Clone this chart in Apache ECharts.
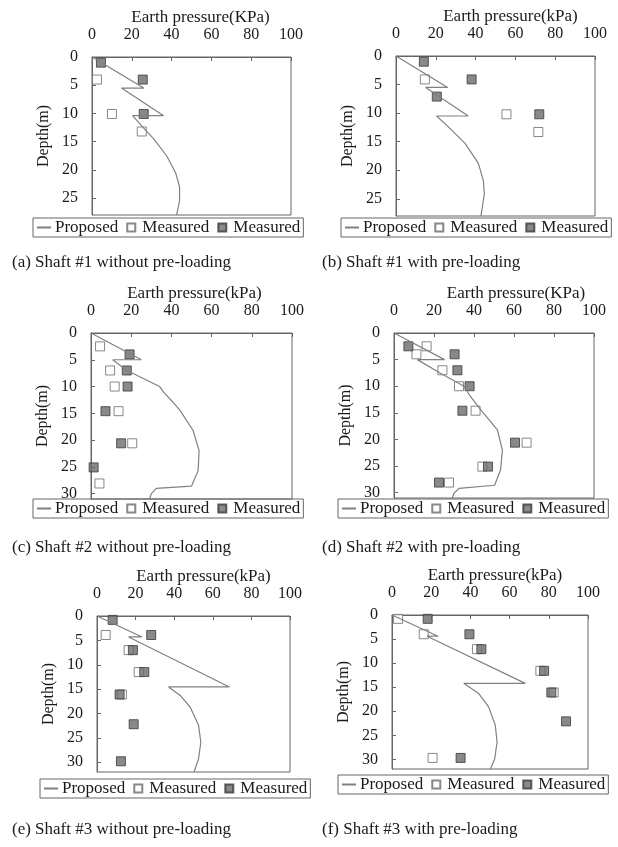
<!DOCTYPE html>
<html lang="en">
    <head>
        <meta charset="UTF-8" />
        <title>Earth pressure vs depth - six shafts</title>
        <script src="https://cdn.jsdelivr.net/npm/echarts@6/dist/echarts.min.js"></script>
        <style>
            html, body { margin: 0; padding: 0; background: #fff; }
        </style>
    </head>
    <body>
        <div id="main" style="width: 618px; height: 847px"></div>

        <script>
            // ---- data: [pressure kPa, depth m] ----
            const captions = [
                "(a) Shaft #1 without pre-loading",
                "(b) Shaft #1 with pre-loading",
                "(c) Shaft #2 without pre-loading",
                "(d) Shaft #2 with pre-loading",
                "(e) Shaft #3 without pre-loading",
                "(f) Shaft #3 with pre-loading"
            ];
            const axisTitles = [
                "Earth pressure(KPa)", "Earth pressure(kPa)",
                "Earth pressure(kPa)", "Earth pressure(KPa)",
                "Earth pressure(kPa)", "Earth pressure(kPa)"
            ];
            const depthMax = [28, 28, 31, 31, 32, 32];

            const proposedA = [[0,0],[26,5.5],[14.8,5.5],[36,10.4],[20.4,10.4],[26,12.6],[31,14.5],[37.5,17.5],[42,20.5],[44,23],[44,25.5],[42.5,28]];
            const openA = [[2.5,4],[10,10.1],[25,13.2]];
            const filledA = [[4.5,1],[25.5,4],[26,10.1]];

            const proposedB = [[0,0],[26,5.5],[14.9,5.5],[36.3,10.5],[20.4,10.5],[26.3,12.4],[34.7,15.3],[41.4,18.8],[43.9,21.8],[44.4,24.1],[42.7,28]];
            const openB = [[14.5,4.1],[55.5,10.2],[71.5,13.3]];
            const filledB = [[14,1],[38,4.1],[20.5,7.1],[72,10.2]];

            const proposedC = [[0,0],[25,5],[10.8,5],[17.5,6.9],[26,8.5],[34.2,10],[36,11],[40,12.6],[44.2,14.4],[50.8,18.2],[53.8,22],[53.3,25.7],[50,28.6],[32.5,29],[30,30],[29.2,31]];
            const openC = [[4.5,2.5],[9.5,7],[11.8,10],[13.7,14.6],[20.5,20.6],[4.2,28.1]];
            const filledC = [[19.2,4],[17.8,7],[18.2,10],[7.2,14.6],[15,20.6],[1.3,25.1]];

            const proposedD = [[0,0],[25.3,5],[11.7,5],[23,7.5],[35,10],[38,11.8],[43.3,14.4],[51.7,18.2],[54.2,22],[53.3,25.7],[50.3,28.6],[32.5,29.2],[30,30.1],[29.2,31]];
            const openD = [[16.3,2.5],[11.2,4],[24.2,7],[32.5,10],[40.8,14.6],[66.3,20.6],[44.2,25.1],[27.5,28.1]];
            const filledD = [[7.2,2.5],[30.3,4],[31.7,7],[37.8,10],[34.2,14.6],[60.5,20.6],[47,25.1],[22.5,28.1]];

            const proposedE = [[0,0],[23.3,4.3],[16.4,4.3],[68.6,14.55],[37.1,14.55],[43.1,16.3],[48.3,18.7],[52.6,22.4],[53.8,25.9],[52.6,29.3],[50.3,32]];
            const openE = [[4.5,3.9],[16.4,7],[21.6,11.5],[12.9,16.1]];
            const filledE = [[8.1,0.8],[28.1,3.9],[18.6,7],[24.5,11.5],[11.7,16.1],[19,22.2],[12.4,29.8]];

            const proposedF = [[0,0],[23.5,4.4],[17.9,4.4],[68,14.2],[36.6,14.2],[44.2,16.3],[49.3,19.1],[52.7,22.9],[53.6,26.4],[52.4,29.9],[50.2,32]];
            const openF = [[3.1,0.8],[16.2,4],[43.4,7.1],[75.7,11.6],[82.5,16.1],[20.7,29.7]];
            const filledF = [[18.2,0.8],[39.5,4],[45.6,7.1],[77.6,11.6],[81.3,16.1],[88.8,22.1],[35,29.7]];

            const proposed = [proposedA, proposedB, proposedC, proposedD, proposedE, proposedF];
            const opens = [openA, openB, openC, openD, openE, openF];
            const filleds = [filledA, filledB, filledC, filledD, filledE, filledF];

            // ---- layout (pixels) ----
            const grids = [
                { left: 92, top: 57, width: 199, height: 158 },
                { left: 396, top: 56, width: 199, height: 160 },
                { left: 91, top: 333, width: 201, height: 166 },
                { left: 394, top: 333, width: 200, height: 165 },
                { left: 97, top: 616, width: 193, height: 156 },
                { left: 392, top: 615, width: 196, height: 154 }
            ];
            // axis title sits a little right of the plot centre in the original
            const titleShift = [9, 15, 3, 22, 10, 5];
            const legendPos = [
                { left: 33, top: 218 }, { left: 341, top: 218 },
                { left: 33, top: 499 }, { left: 338, top: 499 },
                { left: 40, top: 779 }, { left: 338, top: 775 }
            ];
            const captionPos = [
                { left: 12, top: 254 }, { left: 322, top: 254 },
                { left: 12, top: 539 }, { left: 322, top: 539 },
                { left: 12, top: 821 }, { left: 322, top: 821 }
            ];

            const font = "'Liberation Serif', 'DejaVu Serif', serif";
            const ink = "#1a1a1a";
            const frame = "#666";
            const squareIcon = "path://M0,0h10v10h-10z";

            let myChart = echarts.init(document.getElementById("main"));

            let options = {
                animation: false,
                backgroundColor: "#fff",
                title: [],
                grid: [],
                xAxis: [],
                yAxis: [],
                legend: [],
                series: []
            };

            for (let i = 0; i < 6; i++) {
                options.title.push({
                    text: captions[i],
                    left: captionPos[i].left,
                    top: captionPos[i].top,
                    padding: 0,
                    textStyle: { fontFamily: font, fontSize: 17, fontWeight: "normal", color: ink }
                });

                options.grid.push(Object.assign({
                    show: true,
                    borderColor: frame,
                    borderWidth: 1,
                    backgroundColor: "#fff"
                }, grids[i]));

                options.xAxis.push({
                    gridIndex: i,
                    type: "value",
                    position: "top",
                    min: 0,
                    max: 100,
                    interval: 20,
                    name: axisTitles[i],
                    nameLocation: "middle",
                    nameGap: 30,
                    nameTextStyle: {
                        fontFamily: font, fontSize: 17, color: ink,
                        padding: [0, 0, 0, titleShift[i] * 2]
                    },
                    axisLine: { show: true, lineStyle: { color: frame } },
                    axisTick: { show: true, inside: true, length: 4, lineStyle: { color: frame } },
                    axisLabel: { fontFamily: font, fontSize: 16, color: ink, margin: 14 },
                    splitLine: { show: false }
                });

                options.yAxis.push({
                    gridIndex: i,
                    type: "value",
                    inverse: true,
                    min: 0,
                    max: depthMax[i],
                    interval: 5,
                    name: "Depth(m)",
                    nameLocation: "middle",
                    nameGap: 40,
                    nameTextStyle: { fontFamily: font, fontSize: 16, color: ink },
                    axisLine: { show: true, lineStyle: { color: frame } },
                    axisTick: { show: true, inside: true, length: 4, lineStyle: { color: frame } },
                    axisLabel: {
                        fontFamily: font, fontSize: 16, color: ink, margin: 14,
                        showMaxLabel: false
                    },
                    splitLine: { show: false }
                });

                const names = ["Proposed" + i, "MeasuredOpen" + i, "MeasuredFilled" + i];

                options.legend.push({
                    data: [
                        { name: names[0], itemStyle: { opacity: 0 } },
                        { name: names[1], icon: squareIcon },
                        { name: names[2], icon: squareIcon }
                    ],
                    left: legendPos[i].left,
                    top: legendPos[i].top,
                    orient: "horizontal",
                    borderColor: frame,
                    borderWidth: 1,
                    padding: [1, 3],
                    itemGap: 8,
                    itemWidth: 14,
                    itemHeight: 8,
                    symbolKeepAspect: true,
                    selectedMode: false,
                    textStyle: { fontFamily: font, fontSize: 17, color: ink, padding: [0, 0, 0, -1] },
                    formatter: (name) => name.startsWith("Proposed") ? "Proposed" : "Measured"
                });

                options.series.push({
                    name: names[0],
                    type: "line",
                    xAxisIndex: i,
                    yAxisIndex: i,
                    data: proposed[i],
                    symbol: "none",
                    lineStyle: { color: "#808080", width: 1.2 },
                    itemStyle: { color: "#808080" }
                });
                options.series.push({
                    name: names[1],
                    type: "scatter",
                    xAxisIndex: i,
                    yAxisIndex: i,
                    data: opens[i],
                    symbol: "rect",
                    symbolSize: 9,
                    itemStyle: { color: "#fff", borderColor: "#6a6a6a", borderWidth: 1 }
                });
                options.series.push({
                    name: names[2],
                    type: "scatter",
                    xAxisIndex: i,
                    yAxisIndex: i,
                    data: filleds[i],
                    symbol: "rect",
                    symbolSize: 9,
                    itemStyle: { color: "#6b6b6b", borderColor: "#3a3a3a", borderWidth: 1 }
                });
            }

            myChart.setOption(options);
        </script>
    </body>
</html>
